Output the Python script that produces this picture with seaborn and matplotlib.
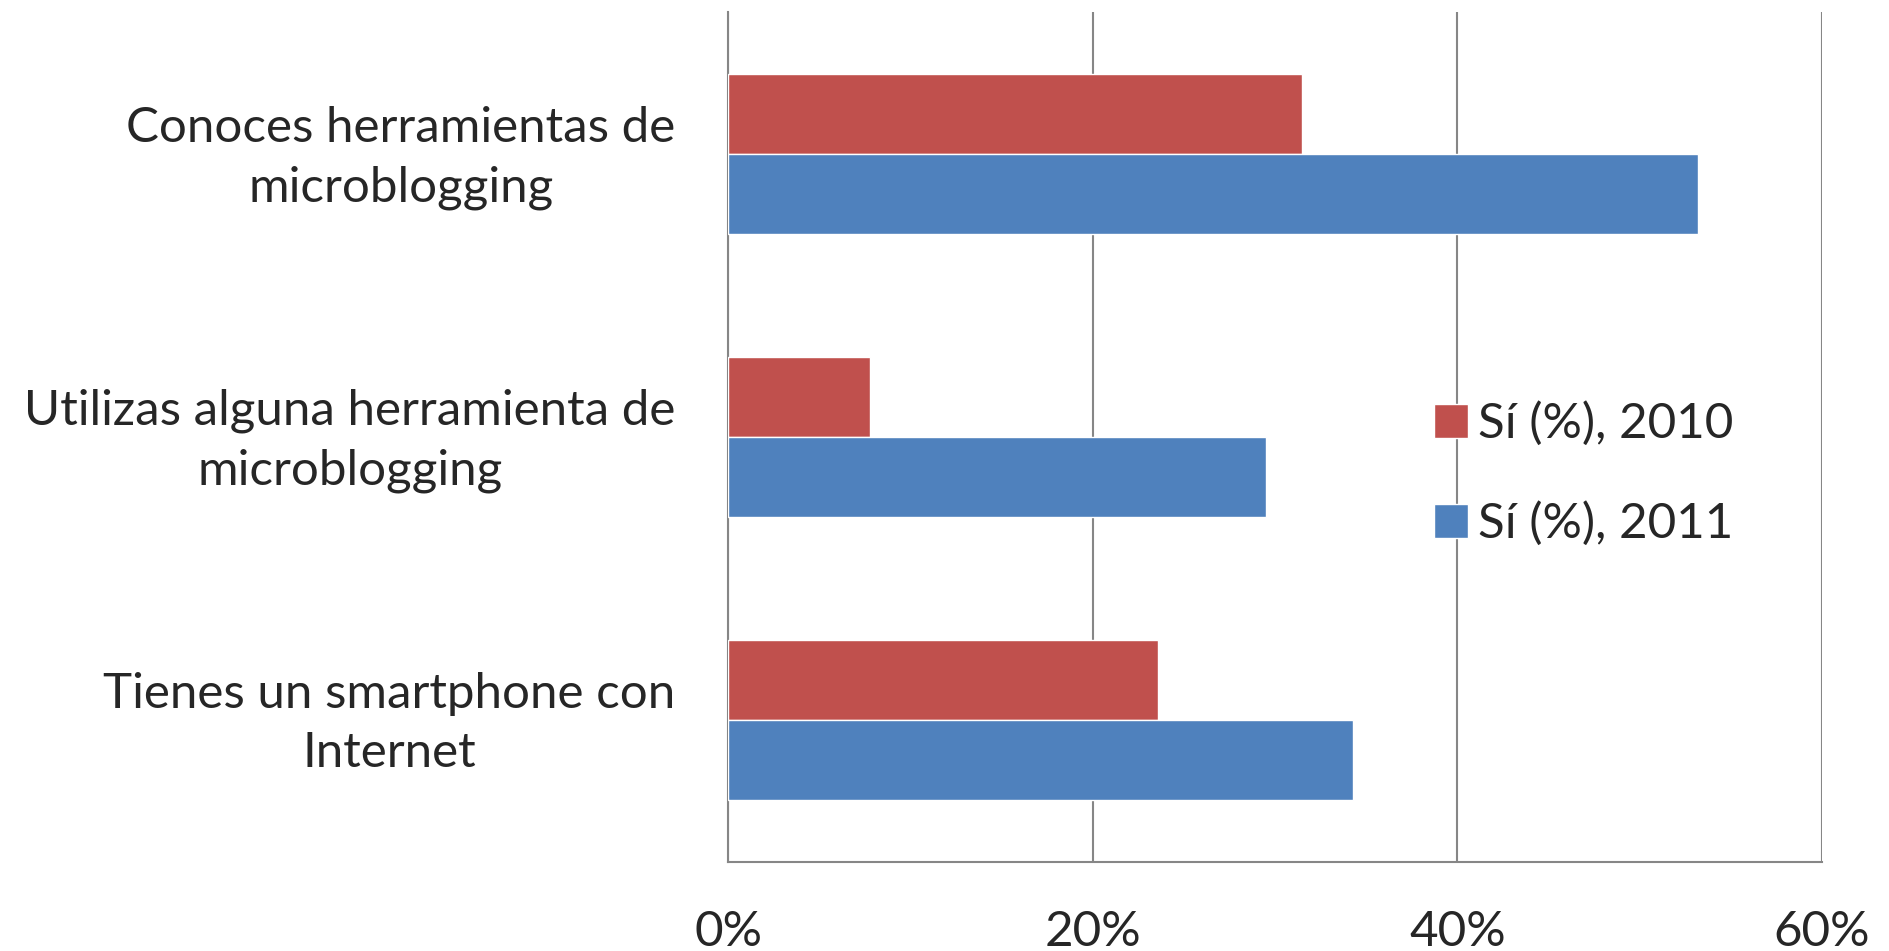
import matplotlib
matplotlib.use('Agg')
import matplotlib.pyplot as plt
import matplotlib.transforms as mtransforms
import seaborn as sns
import pandas as pd
from matplotlib.ticker import PercentFormatter

sns.set_style("white")
plt.rcParams['font.family'] = ['Lato', 'DejaVu Sans']

# Data (percent of "Sí")
categories = [
    "Conoces herramientas de\nmicroblogging",
    "Utilizas alguna herramienta de\nmicroblogging",
    "Tienes un smartphone con\nInternet",
]
series = ["Sí (%), 2010", "Sí (%), 2011"]
values_2010 = [31.5, 7.8, 23.6]
values_2011 = [53.2, 29.5, 34.3]
colors = ["#C0504D", "#4F81BD"]

df = pd.DataFrame({
    "categoria": categories * 2,
    "serie": [series[0]] * 3 + [series[1]] * 3,
    "valor": values_2010 + values_2011,
})

fig = plt.figure(figsize=(18.89, 9.51), dpi=100)
ax = fig.add_axes([0.3855, 0.094, 0.579, 0.893])

sns.barplot(data=df, x="valor", y="categoria", hue="serie", orient="h",
            palette=colors, width=0.565, saturation=1, ax=ax, zorder=3)

ax.set_xlim(0, 60)
ax.set_xticks([0, 20, 40, 60])
ax.xaxis.set_major_formatter(PercentFormatter(decimals=0))
ax.grid(axis='x', color='#868686', linewidth=1.5, zorder=0)
ax.grid(axis='y', visible=False)
ax.set_axisbelow(True)

for side in ['top', 'right']:
    ax.spines[side].set_visible(False)
for side in ['left', 'bottom']:
    ax.spines[side].set_color('#868686')
    ax.spines[side].set_linewidth(1.5)

ax.set_xlabel('')
ax.set_ylabel('')
ax.tick_params(axis='x', length=0, pad=35, labelsize=35.5)
ax.tick_params(axis='y', length=0, pad=38, labelsize=35.5)
# nudge category labels up a little, as in the original
shift = mtransforms.ScaledTranslation(0, 8 / 100, fig.dpi_scale_trans)
for lbl in ax.get_yticklabels():
    lbl.set_multialignment('center')
    lbl.set_linespacing(1.42)
    lbl.set_transform(lbl.get_transform() + shift)

ax.legend(loc='upper left', bbox_to_anchor=(0.627, 0.565), frameon=False,
          fontsize=35.5, handlelength=0.7, handleheight=0.7, handletextpad=0.2,
          labelspacing=1.12, borderaxespad=0)

plt.savefig('out.png', dpi=100)
plt.close()
